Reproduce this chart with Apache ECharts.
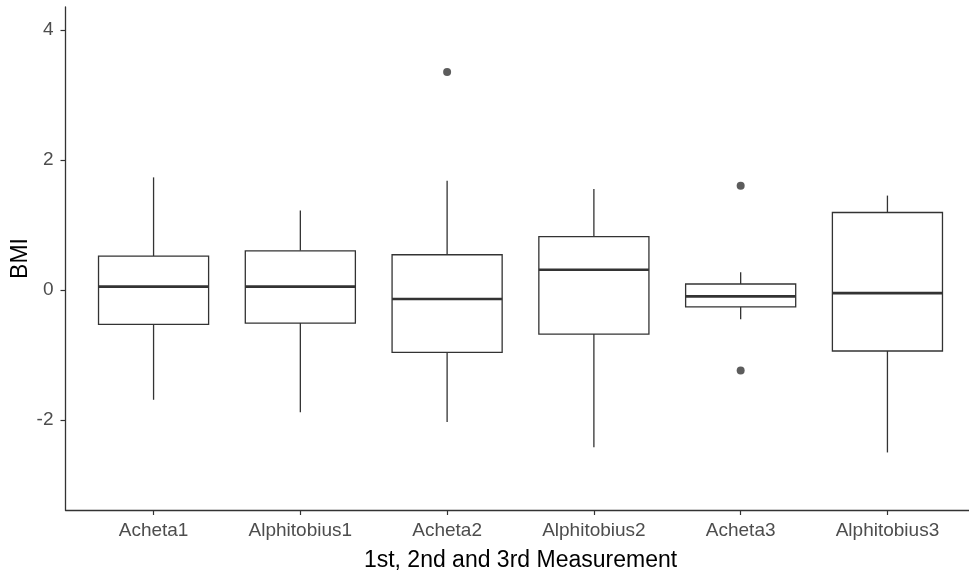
<!DOCTYPE html>
<html>
<head>
<meta charset="utf-8">
<script src="https://cdn.jsdelivr.net/npm/echarts@6/dist/echarts.min.js"></script>
<style>html,body{margin:0;padding:0;background:#fff}#c{width:969px;height:574px}</style>
</head>
<body>
<div id="c"></div>
<script>
const categories = ['Acheta1','Alphitobius1','Acheta2','Alphitobius2','Acheta3','Alphitobius3'];
const lowWhisker = [-1.69, -1.88, -2.03, -2.42, -0.45, -2.50];
const q1 = [-0.53, -0.51, -0.96, -0.68, -0.26, -0.94];
const median = [0.05, 0.05, -0.14, 0.31, -0.10, -0.05];
const q3 = [0.52, 0.60, 0.54, 0.82, 0.09, 1.19];
const highWhisker = [1.73, 1.22, 1.68, 1.55, 0.27, 1.45];
const outlierCategory = ['Acheta2','Acheta3','Acheta3'];
const outlierValue = [3.35, 1.60, -1.24];
const yTicks = [-2, 0, 2, 4];

const boxData = categories.map((c, i) => [i + 1, lowWhisker[i], q1[i], median[i], q3[i], highWhisker[i]]);
const outlierData = outlierCategory.map((c, i) => [categories.indexOf(c) + 1, outlierValue[i]]);
const xPositions = categories.map((c, i) => i + 1);

const LINE = '#333333';
const FONT = 'Liberation Sans';
const chart = echarts.init(document.getElementById('c'), null, {renderer: 'canvas'});
chart.setOption({
  animation: false,
  backgroundColor: '#ffffff',
  grid: {left: 65.5, top: 7, width: 910, height: 503, containLabel: false, outerBoundsMode: 'none'},
  xAxis: {
    type: 'value', min: 0.4, max: 6.6,
    name: '1st, 2nd and 3rd Measurement', nameLocation: 'middle', nameGap: 39, nameMoveOverlap: false,
    nameTextStyle: {color: '#000', fontSize: 23, fontFamily: FONT},
    axisLine: {show: true, onZero: false, lineStyle: {color: LINE, width: 1.3}},
    axisTick: {show: true, customValues: xPositions, length: 5, lineStyle: {color: LINE, width: 1.2}},
    axisLabel: {customValues: xPositions, formatter: v => categories[Math.round(v) - 1] || '',
      color: '#4d4d4d', fontSize: 19, fontFamily: FONT, margin: 11},
    splitLine: {show: false}
  },
  yAxis: {
    type: 'value', min: -3.385, max: 4.35,
    name: 'BMI', nameLocation: 'middle', nameGap: 33, nameRotate: 90, nameMoveOverlap: false,
    nameTextStyle: {color: '#000', fontSize: 23, fontFamily: FONT},
    axisLine: {show: true, onZero: false, lineStyle: {color: LINE, width: 1.3}},
    axisTick: {show: true, customValues: yTicks, length: 5, lineStyle: {color: LINE, width: 1.2}},
    axisLabel: {customValues: yTicks, color: '#4d4d4d', fontSize: 19, fontFamily: FONT, margin: 12},
    splitLine: {show: false}
  },
  series: [
    {
      type: 'custom',
      data: boxData,
      encode: {x: 0, y: [1, 2, 3, 4, 5]},
      renderItem: function (params, api) {
        const x = api.value(0);
        const hw = 0.375;
        const lo = api.coord([x, api.value(1)]);
        const b1 = api.coord([x - hw, api.value(2)]);
        const md = api.coord([x - hw, api.value(3)]);
        const b3 = api.coord([x + hw, api.value(4)]);
        const hi = api.coord([x, api.value(5)]);
        const st = {stroke: LINE, lineWidth: 1.3, fill: null};
        return {
          type: 'group',
          children: [
            {type: 'line', shape: {x1: hi[0], y1: hi[1], x2: hi[0], y2: b3[1]}, style: st},
            {type: 'line', shape: {x1: lo[0], y1: b1[1], x2: lo[0], y2: lo[1]}, style: st},
            {type: 'rect', shape: {x: b1[0], y: b3[1], width: b3[0] - b1[0], height: b1[1] - b3[1]}, style: {stroke: LINE, lineWidth: 1.3, fill: '#fff'}},
            {type: 'line', shape: {x1: b1[0], y1: md[1], x2: b3[0], y2: md[1]}, style: {stroke: LINE, lineWidth: 2.6}}
          ]
        };
      }
    },
    {
      type: 'scatter',
      data: outlierData,
      symbol: 'circle',
      symbolSize: 8,
      itemStyle: {color: LINE}
    }
  ]
});
</script>
</body>
</html>
